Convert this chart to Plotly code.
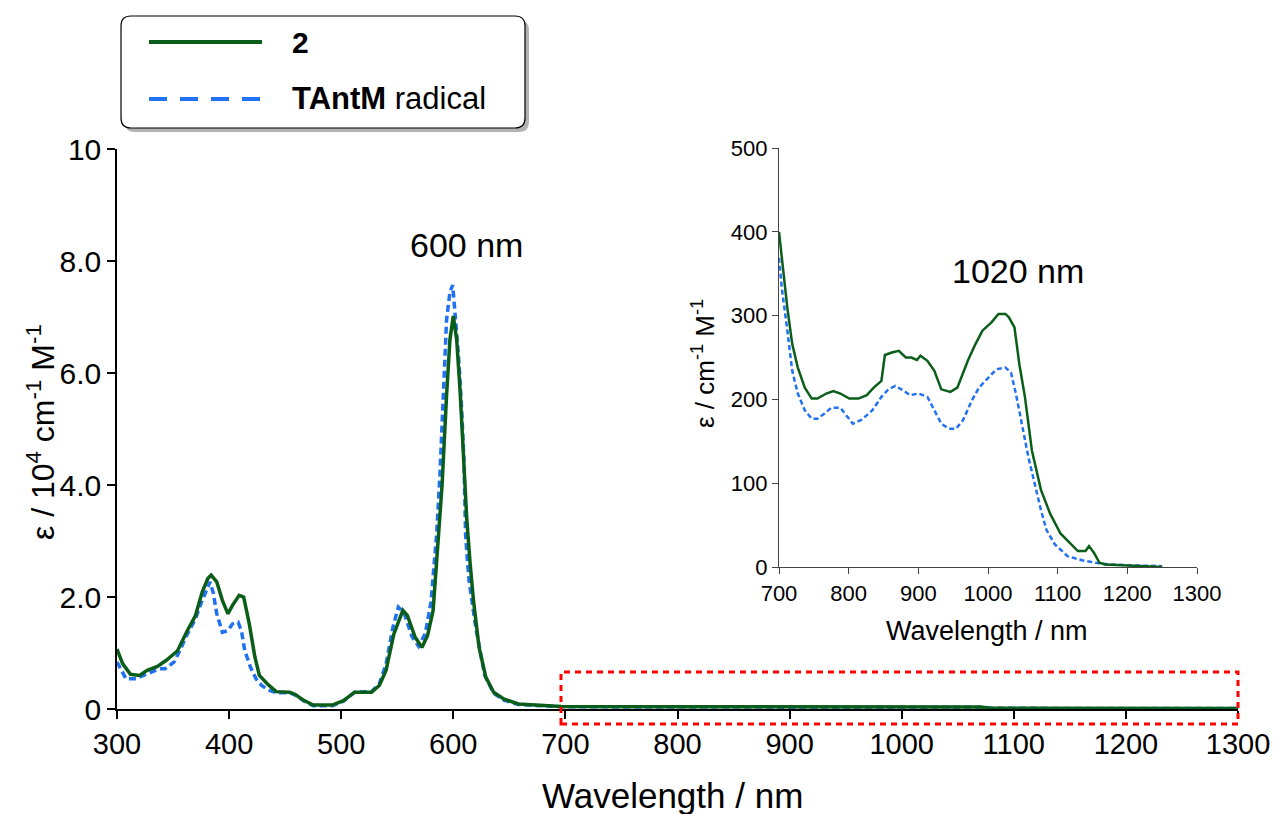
import plotly.graph_objects as go

# ---------------- data ----------------
# main panel, compound 2 (units: 1e4 M^-1 cm^-1)
wl_main_2 = [300, 305, 312, 320, 327, 336, 344, 354, 362, 370, 376, 381, 384, 389, 394, 399,
             403, 409, 413, 418, 423, 427, 434, 442, 454, 459, 467, 475, 492, 502, 512, 527,
             534, 540, 547, 555, 559, 566, 572, 577, 582, 586, 590, 594, 597, 600, 603, 606,
             609, 612, 615, 618, 623, 629, 636, 645, 658, 680, 696, 800, 900, 1000, 1070,
             1080, 1200, 1300]
eps_main_2 = [1.07, 0.81, 0.62, 0.60, 0.69, 0.76, 0.87, 1.04, 1.37, 1.67, 2.09, 2.33, 2.39, 2.27,
              1.94, 1.70, 1.85, 2.03, 2.00, 1.52, 0.93, 0.60, 0.45, 0.31, 0.30, 0.26, 0.15, 0.07,
              0.07, 0.15, 0.30, 0.30, 0.42, 0.69, 1.34, 1.76, 1.67, 1.28, 1.10, 1.31, 1.76, 2.80,
              4.00, 5.60, 6.60, 7.02, 6.60, 5.70, 4.60, 3.40, 2.60, 1.94, 1.10, 0.57, 0.30, 0.18,
              0.09, 0.06, 0.045, 0.04, 0.04, 0.04, 0.035, 0.015, 0.012, 0.01]

# main panel, TAntM radical
wl_main_rad = [300, 308, 317, 327, 338, 343, 351, 356, 362, 370, 376, 383, 386, 389, 394, 399,
               403, 408, 411, 414, 419, 424, 429, 435, 442, 454, 459, 467, 475, 492, 502, 512,
               527, 534, 540, 546, 551, 556, 563, 569, 575, 580, 585, 588, 590, 592, 594, 597,
               599.5, 602, 605, 607.5, 609.5, 611, 614, 620, 628, 636, 645, 658, 680, 696, 800,
               900, 1000, 1070, 1080, 1200, 1300]
eps_main_rad = [0.84, 0.54, 0.54, 0.63, 0.72, 0.72, 0.84, 1.04, 1.31, 1.61, 1.94, 2.27, 2.06,
                1.70, 1.37, 1.40, 1.52, 1.55, 1.40, 1.04, 0.75, 0.54, 0.42, 0.34, 0.29, 0.29,
                0.25, 0.14, 0.06, 0.06, 0.14, 0.30, 0.31, 0.45, 0.80, 1.45, 1.82, 1.72, 1.30,
                1.12, 1.35, 1.90, 3.08, 4.15, 5.20, 6.11, 6.95, 7.45, 7.57, 6.95, 6.20, 5.34,
                4.45, 3.08, 2.30, 1.46, 0.60, 0.28, 0.16, 0.08, 0.05, 0.04, 0.035, 0.035, 0.03,
                0.03, 0.012, 0.01, 0.008]

# inset, compound 2 (units: M^-1 cm^-1)
wl_ins_2 = [700, 704, 712, 719, 727, 737, 747, 755, 768, 778, 788, 801, 814, 826, 836, 847,
            852, 862, 872, 882, 890, 898, 903, 913, 923, 933, 946, 956, 971, 982, 992, 1005,
            1015, 1025, 1030, 1038, 1045, 1053, 1063, 1076, 1089, 1104, 1119, 1129, 1140,
            1145, 1152, 1160, 1168, 1196, 1226, 1250]
eps_ins_2 = [400, 369, 309, 266, 238, 214, 201, 201, 207, 210, 207, 201, 201, 205, 214, 222,
             253, 256, 258, 250, 250, 247, 252, 246, 234, 212, 209, 214, 246, 266, 282, 292,
             302, 302, 298, 286, 242, 203, 139, 92, 64, 40, 27, 19, 19, 25, 17, 5, 3, 2, 1, 0]

# inset, TAntM radical
wl_ins_rad = [700, 704, 712, 719, 727, 737, 747, 755, 765, 775, 788, 798, 806, 819, 834, 847,
              857, 867, 880, 888, 900, 913, 926, 933, 944, 954, 964, 977, 987, 1000, 1012,
              1025, 1033, 1040, 1051, 1058, 1068, 1076, 1084, 1096, 1114, 1135, 1155, 1175,
              1206, 1250]
eps_ins_rad = [369, 333, 282, 234, 207, 187, 177, 177, 183, 190, 190, 179, 171, 176, 187, 203,
               212, 216, 210, 205, 207, 203, 183, 171, 165, 165, 175, 199, 214, 226, 236, 238,
               232, 207, 163, 131, 96, 68, 44, 27, 13, 8, 5, 3, 2, 1]

series_names = ["2", "TAntM radical"]
main_x_ticks = [300, 400, 500, 600, 700, 800, 900, 1000, 1100, 1200, 1300]
main_y_ticks = [0, 2, 4, 6, 8, 10]
main_y_ticktext = ["0", "2.0", "4.0", "6.0", "8.0", "10"]
ins_x_ticks = [700, 800, 900, 1000, 1100, 1200, 1300]
ins_y_ticks = [0, 100, 200, 300, 400, 500]

# ---------------- styling ----------------
W, H = 1274, 814
GREEN = "#0b5e1a"
BLUE = "#2171f3"
FONT = "Liberation Sans, Arial, sans-serif"


def px(x):
    return x / W


def py(y):
    return 1 - y / H


fig = go.Figure()

fig.add_trace(go.Scatter(x=wl_main_rad, y=eps_main_rad, mode="lines", name=series_names[1],
                         line=dict(color=BLUE, width=3.5, dash="7px,4px"),
                         xaxis="x", yaxis="y", showlegend=False))
fig.add_trace(go.Scatter(x=wl_main_2, y=eps_main_2, mode="lines", name=series_names[0],
                         line=dict(color=GREEN, width=3.5),
                         xaxis="x", yaxis="y", showlegend=False))
fig.add_trace(go.Scatter(x=wl_ins_rad, y=eps_ins_rad, mode="lines", name=series_names[1],
                         line=dict(color=BLUE, width=2.5, dash="5px,3px"),
                         xaxis="x2", yaxis="y2", showlegend=False))
fig.add_trace(go.Scatter(x=wl_ins_2, y=eps_ins_2, mode="lines", name=series_names[0],
                         line=dict(color=GREEN, width=2.5),
                         xaxis="x2", yaxis="y2", showlegend=False))

axis_common = dict(showgrid=False, zeroline=False, showline=True, ticks="outside", mirror=False,
                   automargin=False)

fig.update_layout(
    template="none",
    width=W, height=H,
    margin=dict(l=0, r=0, t=0, b=0, pad=0, autoexpand=False),
    paper_bgcolor="white", plot_bgcolor="rgba(0,0,0,0)",
    font=dict(family=FONT, color="black"),
    showlegend=False,
    xaxis=dict(domain=[px(117), px(1238)], range=[300, 1300], tickvals=main_x_ticks,
               linecolor="black", linewidth=1.5, tickcolor="black", ticklen=8, tickwidth=1.5,
               tickfont=dict(size=29, family=FONT), anchor="y", **axis_common),
    yaxis=dict(domain=[py(709), py(149)], range=[0, 10], tickvals=main_y_ticks,
               ticktext=main_y_ticktext,
               linecolor="black", linewidth=1.5, tickcolor="black", ticklen=8, tickwidth=1.5,
               tickfont=dict(size=30, family=FONT), anchor="x", **axis_common),
    xaxis2=dict(domain=[px(779), px(1197)], range=[700, 1300], tickvals=ins_x_ticks,
                linecolor="#444", linewidth=1.2, tickcolor="#444", ticklen=6, tickwidth=1.2,
                tickfont=dict(size=22, family=FONT), anchor="y2", **axis_common),
    yaxis2=dict(domain=[py(567), py(148)], range=[0, 500], tickvals=ins_y_ticks,
                linecolor="#444", linewidth=1.2, tickcolor="#444", ticklen=6, tickwidth=1.2,
                tickfont=dict(size=22, family=FONT), anchor="x2", **axis_common),
)

annotations = [
    dict(text="ε / 10<sup>4</sup> cm<sup>-1</sup> M<sup>-1</sup>", x=px(41), y=py(432),
         textangle=-90, font=dict(size=32)),
    dict(text="Wavelength / nm", x=px(672), y=py(795), font=dict(size=35)),
    dict(text="600 nm", x=px(466), y=py(245), font=dict(size=34)),
    dict(text="1020 nm", x=px(1018), y=py(271), font=dict(size=34)),
    dict(text="ε / cm<sup>-1</sup> M<sup>-1</sup>", x=px(703), y=py(364), textangle=-90,
         font=dict(size=26)),
    dict(text="Wavelength / nm", x=px(987), y=py(631), font=dict(size=27)),
    dict(text="<b>2</b>", x=px(290), y=py(42), xanchor="left", font=dict(size=30)),
    dict(text="<b>TAntM</b> radical", x=px(290), y=py(99), xanchor="left", font=dict(size=31)),
]
for a in annotations:
    a.setdefault("xanchor", "center")
    a.setdefault("yanchor", "middle")
    fig.add_annotation(xref="paper", yref="paper", showarrow=False, **a)


def rounded_rect(x0, y0, x1, y1, r):
    rx, ry = r / W, r / H
    X0, X1 = px(x0), px(x1)
    Yt, Yb = py(y0), py(y1)
    return (f"M {X0+rx},{Yt} L {X1-rx},{Yt} Q {X1},{Yt} {X1},{Yt-ry} "
            f"L {X1},{Yb+ry} Q {X1},{Yb} {X1-rx},{Yb} L {X0+rx},{Yb} "
            f"Q {X0},{Yb} {X0},{Yb+ry} L {X0},{Yt-ry} Q {X0},{Yt} {X0+rx},{Yt} Z")


shapes = [
    # legend shadow and box
    dict(type="path", path=rounded_rect(125, 20, 529, 132, 10), fillcolor="rgba(0,0,0,0.3)",
         line=dict(width=0)),
    dict(type="path", path=rounded_rect(121, 16, 525, 128, 10), fillcolor="white",
         line=dict(color="black", width=1.2)),
    # legend samples
    dict(type="line", x0=px(149), x1=px(262), y0=py(42), y1=py(42),
         line=dict(color=GREEN, width=4)),
    dict(type="line", x0=px(149), x1=px(262), y0=py(99), y1=py(99),
         line=dict(color=BLUE, width=4, dash="18px,13px")),
    # red dotted highlight box
    dict(type="rect", x0=px(561), x1=px(1238), y0=py(724), y1=py(672),
         line=dict(color="#ff0000", width=3, dash="6px,5px"), fillcolor="rgba(0,0,0,0)"),
]
for s in shapes:
    fig.add_shape(xref="paper", yref="paper", layer="above", **s)

fig.write_html("out.html")
